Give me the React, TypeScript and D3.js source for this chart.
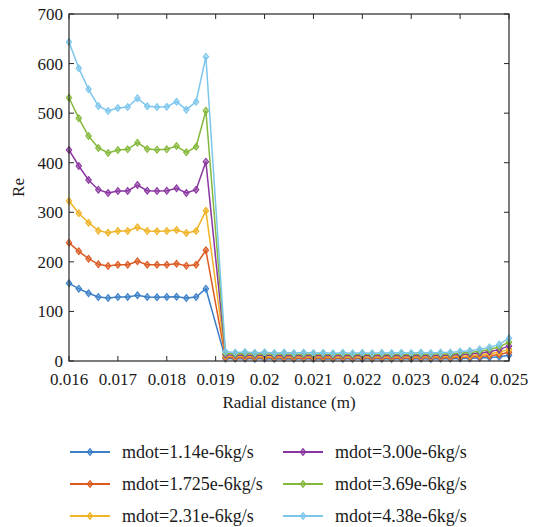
import React from "react";
import * as d3 from "d3";

// Radial positions (m): inner region and outer region
const xInner = [0.016, 0.0162, 0.0164, 0.0166, 0.0168, 0.017, 0.0172, 0.0174, 0.0176, 0.0178, 0.018, 0.0182, 0.0184, 0.0186, 0.0188];
const xOuter = [
  0.0192, 0.0194, 0.0196, 0.0198, 0.02, 0.0202, 0.0204, 0.0206, 0.0208, 0.021,
  0.0212, 0.0214, 0.0216, 0.0218, 0.022, 0.0222, 0.0224, 0.0226, 0.0228, 0.023,
  0.0232, 0.0234, 0.0236, 0.0238, 0.024, 0.0242, 0.0244, 0.0246, 0.0248, 0.025,
];

const seriesNames = [
  "mdot=1.14e-6kg/s",
  "mdot=1.725e-6kg/s",
  "mdot=2.31e-6kg/s",
  "mdot=3.00e-6kg/s",
  "mdot=3.69e-6kg/s",
  "mdot=4.38e-6kg/s",
];
const seriesColors = ["#3b7fc6", "#dc5a22", "#efb325", "#8a36a0", "#84b83a", "#7cc6ec"];

// Reynolds number values per series (inner region then outer region)
const re114 = [
  156.7, 145.9, 136.6, 129.1, 127.1, 129.1, 129.1, 132.5, 129.1, 128.5, 129.1, 129.7, 127.1, 129.1, 145.9,
  4.8, 4.4, 4.7, 4.3, 4.6, 4.2, 4.5, 4.2, 4.4, 4.2, 4.4, 4.1, 4.3, 4.1, 4.3, 4.1, 4.3, 4.2, 4.4, 4.2, 4.4, 4.2, 4.5, 4.4, 4.9, 5.3, 6.1, 7.2, 8.7, 11.5,
];
const re1725 = [
  238.7, 221.3, 206.4, 195.1, 191.7, 194.3, 194.3, 201.1, 194.3, 194.3, 194.3, 196.3, 192.3, 194.3, 223.3,
  7.3, 6.7, 7.1, 6.5, 6.9, 6.4, 6.8, 6.3, 6.7, 6.3, 6.6, 6.2, 6.6, 6.2, 6.6, 6.2, 6.6, 6.3, 6.6, 6.3, 6.7, 6.4, 6.8, 6.7, 7.5, 8.1, 9.3, 10.8, 13.2, 17.5,
];
const re231 = [
  322.8, 297.9, 279.0, 262.9, 258.8, 262.3, 262.3, 269.7, 262.3, 261.6, 262.3, 264.3, 258.2, 262.3, 303.2,
  9.8, 9.0, 9.5, 8.7, 9.2, 8.5, 9.1, 8.4, 9.0, 8.4, 8.9, 8.3, 8.8, 8.3, 8.8, 8.3, 8.8, 8.4, 8.9, 8.4, 9.0, 8.6, 9.1, 9.0, 10.0, 10.8, 12.4, 14.5, 17.7, 23.5,
];
const re300 = [
  425.7, 393.4, 365.1, 345.6, 338.9, 343.0, 343.0, 355.0, 343.6, 343.0, 343.6, 348.4, 338.9, 345.6, 402.1,
  12.7, 11.6, 12.3, 11.3, 12.0, 11.1, 11.8, 11.0, 11.6, 11.0, 11.5, 10.8, 11.4, 10.8, 11.4, 10.8, 11.4, 11.0, 11.5, 11.0, 11.6, 11.2, 11.8, 11.6, 13.0, 14.0, 16.1, 18.8, 22.9, 30.5,
];
const re369 = [
  531.0, 489.6, 453.9, 429.7, 419.6, 425.7, 427.0, 440.4, 427.7, 426.3, 427.0, 433.7, 421.0, 432.3, 504.9,
  15.5, 14.3, 15.1, 13.9, 14.7, 13.6, 14.5, 13.4, 14.3, 13.4, 14.1, 13.3, 14.0, 13.3, 14.0, 13.3, 14.0, 13.4, 14.1, 13.4, 14.3, 13.7, 14.5, 14.3, 16.0, 17.3, 19.8, 23.1, 28.2, 38.0,
];
const re438 = [
  643.5, 590.4, 548.1, 514.4, 504.3, 510.4, 512.4, 530.0, 513.8, 512.4, 513.0, 523.1, 507.0, 523.1, 613.9,
  18.5, 17.0, 18.0, 16.5, 17.5, 16.2, 17.2, 16.0, 17.0, 16.0, 16.8, 15.8, 16.7, 15.8, 16.7, 15.8, 16.7, 16.0, 16.8, 16.0, 17.0, 16.3, 17.3, 17.0, 19.0, 20.5, 23.5, 27.5, 33.5, 46.0,
];

const xTicks = [0.016, 0.017, 0.018, 0.019, 0.02, 0.021, 0.022, 0.023, 0.024, 0.025];
const xTickLabels = ["0.016", "0.017", "0.018", "0.019", "0.02", "0.021", "0.022", "0.023", "0.024", "0.025"];
const yTicks = [0, 100, 200, 300, 400, 500, 600, 700];

const W = 533;
const H = 527;
const plot = { left: 69, right: 509, top: 14, bottom: 361 };
const FONT = '"Liberation Serif", "DejaVu Serif", serif';
const textStyle = { fontFamily: FONT };

const xAll = [...xInner, ...xOuter];
const allSeries = [re114, re1725, re231, re300, re369, re438];

function Diamond({ cx, cy, color }: { cx: number; cy: number; color: string }) {
  const r = 3.4;
  return (
    <path
      d={`M${cx},${cy - r}L${cx + r * 0.8},${cy}L${cx},${cy + r}L${cx - r * 0.8},${cy}Z`}
      fill={color}
      fillOpacity={0.55}
      stroke={color}
      strokeWidth={1.1}
    />
  );
}

export default function App() {
  const x = d3.scaleLinear().domain([0.016, 0.025]).range([plot.left, plot.right]);
  const y = d3.scaleLinear().domain([0, 700]).range([plot.bottom, plot.top]);
  const line = d3
    .line<[number, number]>()
    .x((d) => x(d[0]))
    .y((d) => y(d[1]));

  const tickLen = 5;

  const legendCols = [
    { lineX0: 70, lineX1: 110, textX: 122 },
    { lineX0: 283, lineX1: 323, textX: 335 },
  ];
  const legendRows = [452, 484, 516];

  return (
    <svg
      width={W}
      height={H}
      style={{ position: "absolute", left: 0, top: 0, background: "#fff", fontFamily: FONT }}
    >
      <rect width={W} height={H} fill="#fff" />
      {/* series */}
      {allSeries.map((vals, si) => {
        const pts: [number, number][] = vals.map((v, i) => [xAll[i], v]);
        const c = seriesColors[si];
        return (
          <g key={si}>
            <path d={line(pts) || ""} fill="none" stroke={c} strokeWidth={1.5} />
            {pts.map((p, i) => (
              <Diamond key={i} cx={x(p[0])} cy={y(p[1])} color={c} />
            ))}
          </g>
        );
      })}

      {/* axes box */}
      <rect
        x={plot.left}
        y={plot.top}
        width={plot.right - plot.left}
        height={plot.bottom - plot.top}
        fill="none"
        stroke="#262626"
        strokeWidth={1.2}
      />
      {xTicks.map((t, i) => (
        <g key={"xt" + i}>
          <line x1={x(t)} x2={x(t)} y1={plot.bottom} y2={plot.bottom - tickLen} stroke="#262626" strokeWidth={1} />
          <line x1={x(t)} x2={x(t)} y1={plot.top} y2={plot.top + tickLen} stroke="#262626" strokeWidth={1} />
          <text x={x(t)} y={plot.bottom + 24} textAnchor="middle" fontSize={17} fill="#1a1a1a" style={textStyle}>
            {xTickLabels[i]}
          </text>
        </g>
      ))}
      {yTicks.map((t, i) => (
        <g key={"yt" + i}>
          <line x1={plot.left} x2={plot.left + tickLen} y1={y(t)} y2={y(t)} stroke="#262626" strokeWidth={1} />
          <line x1={plot.right} x2={plot.right - tickLen} y1={y(t)} y2={y(t)} stroke="#262626" strokeWidth={1} />
          <text x={plot.left - 6} y={y(t)} dy="0.35em" textAnchor="end" fontSize={17} fill="#1a1a1a" style={textStyle}>
            {t}
          </text>
        </g>
      ))}

      <text x={(plot.left + plot.right) / 2} y={408} textAnchor="middle" fontSize={17} fill="#1a1a1a" style={textStyle}>
        Radial distance (m)
      </text>
      <text
        transform={`translate(24,${(plot.top + plot.bottom) / 2}) rotate(-90)`}
        textAnchor="middle"
        fontSize={17}
        fill="#1a1a1a"
        style={textStyle}
      >
        Re
      </text>

      {/* legend */}
      {seriesNames.map((name, i) => {
        const col = legendCols[Math.floor(i / 3)];
        const ry = legendRows[i % 3];
        const c = seriesColors[i];
        return (
          <g key={"lg" + i}>
            <line x1={col.lineX0} x2={col.lineX1} y1={ry} y2={ry} stroke={c} strokeWidth={1.8} />
            <Diamond cx={(col.lineX0 + col.lineX1) / 2} cy={ry} color={c} />
            <text x={col.textX} y={ry} dy="0.35em" fontSize={18} fill="#1a1a1a" style={textStyle}>
              {name}
            </text>
          </g>
        );
      })}
    </svg>
  );
}
